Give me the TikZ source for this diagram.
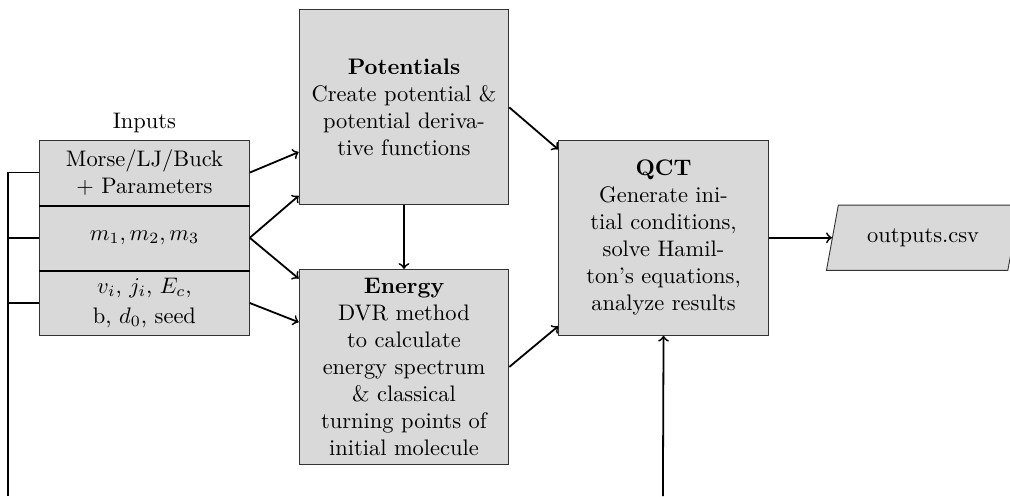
\documentclass[tikz,border=0pt]{standalone}
\usepackage{amsmath,amssymb}
\usepackage{tikz}
\usetikzlibrary{shapes.geometric}

\begin{document}
\begin{tikzpicture}[auto,
    box/.style={draw=black!80, fill=gray!30, align=center, minimum width=3.28cm, minimum height=3.05cm, inner sep=2pt},
    inbox/.style={box, minimum height=1.02cm},
    flow/.style={->, thick}]
    \clip (0,0) rectangle (15.80,7.76);
    \node (lab) at (2.26, 5.83) {Inputs};
    \node[inbox] (in1) at (2.26, 5.06) {Morse/LJ/Buck\\+ Parameters};
    \node[inbox] (in2) at (2.26, 4.04) {$m_1, m_2, m_3$};
    \node[inbox] (in3) at (2.26, 3.02) {$v_i$, $j_i$, $E_c$,\\[0.3ex]b, $d_0$, seed};
    \node[box] (pot) at (6.32, 6.08) {\textbf{Potentials}\\Create potential \&\\potential deriva-\\tive functions};
    \node[box] (en) at (6.32, 2.02) {\textbf{Energy}\\DVR method\\to calculate\\energy spectrum\\\& classical\\turning points of\\initial molecule};
    \node[box] (qct) at (10.38, 4.04) {\textbf{QCT}\\Generate ini-\\tial conditions,\\solve Hamil-\\ton's equations,\\analyze results};
    \node[trapezium, trapezium left angle=75, trapezium right angle=105, trapezium stretches,
        draw=black!80, fill=gray!30, minimum width=3.03cm, minimum height=1.02cm] (out) at (14.44, 4.04) {outputs.csv};
    \coordinate (fb) at (0.125, 0);
    \coordinate (qb) at (10.37, 0);
    \draw [thick] (in1.south west) to (in1.south east);
    \draw [thick] (in2.south west) to (in2.south east);
    \draw [flow] (in1.east) to (pot.203);
    \draw [flow] (in2.east) to (pot.220);
    \draw [flow] (in2.east) to (en.140);
    \draw [flow] (in3.east) to (en.157);
    \draw [flow] (pot.south) to (en.north);
    \draw [flow] (pot.east) to (qct.140);
    \draw [flow] (en.east) to (qct.220);
    \draw [flow] (qct.east) to (out.west);
    \draw [flow] (qb) to (qct.south);
    \draw [thick] (in1.west) -| (fb);
    \draw [thick] (in2.west) to (fb |- in2.west);
    \draw [thick] (in3.west) to (fb |- in3.west);
\end{tikzpicture}
\end{document}
